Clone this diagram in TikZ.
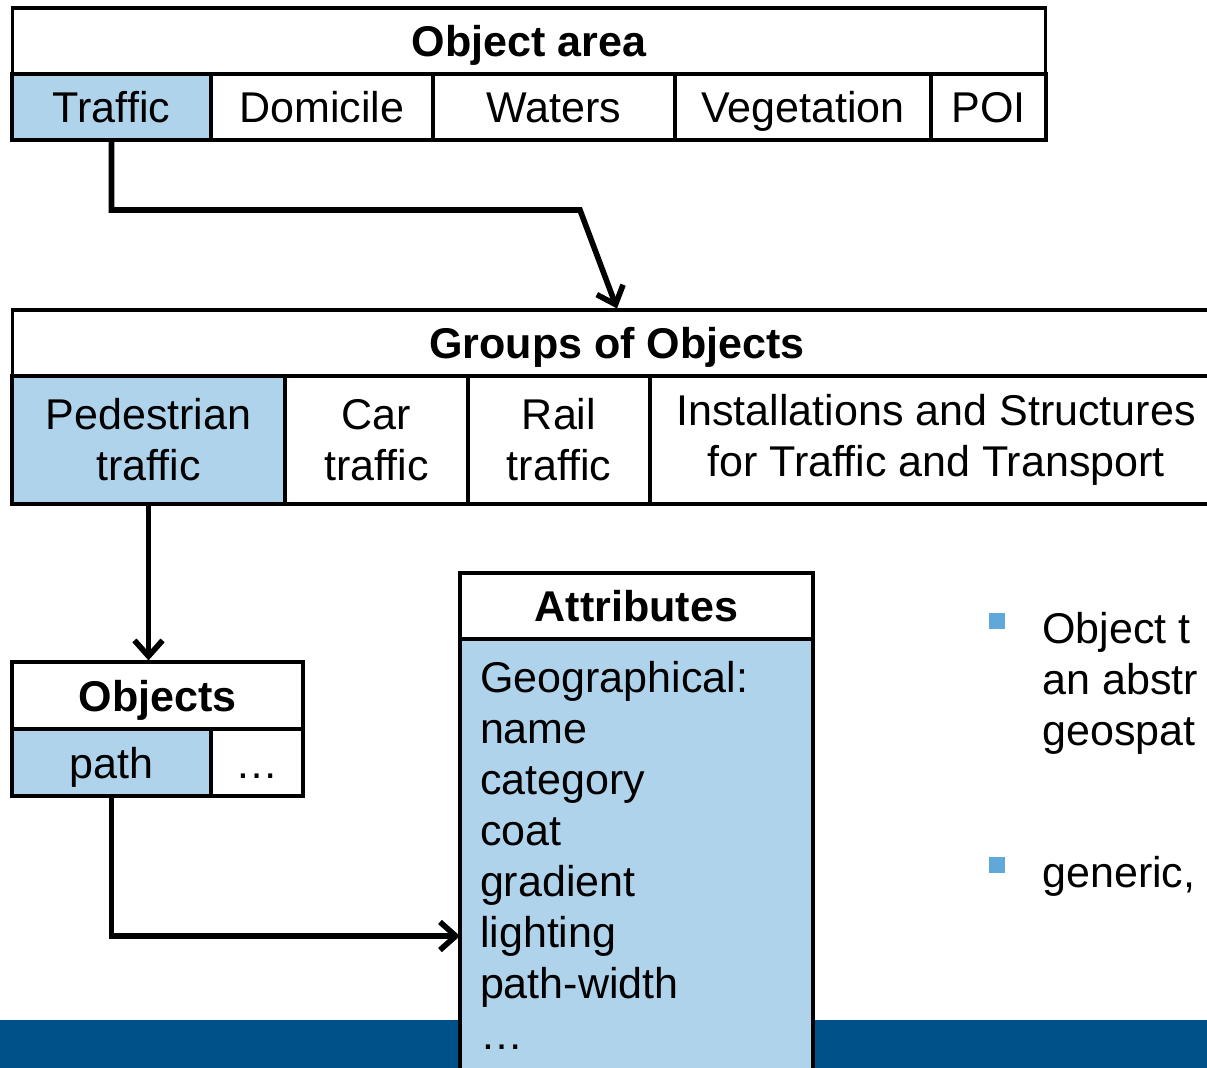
\documentclass[tikz,border=0pt]{standalone}
\usepackage{fontspec}
\setmainfont{Liberation Sans}
\usetikzlibrary{arrows.meta}

\definecolor{cellblue}{HTML}{B0D3EC}
\definecolor{bandblue}{HTML}{00508A}
\definecolor{bulletblue}{HTML}{5FA8D8}
\newcommand{\slidefont}{\fontsize{24.5}{29}\selectfont}

\begin{document}
\begin{tikzpicture}[x=0.02cm, y=-0.02cm,
        font=\slidefont,
        cell/.style={draw, line width=1.8pt, inner sep=0pt, minimum height=1.32cm, align=center},
        oneline/.style={text height=22pt, text depth=4pt},
        hl/.style={cell, fill=cellblue},
        head/.style={cell, oneline, font=\slidefont\bfseries},
        bullet/.style={fill=bulletblue, inner sep=0pt, minimum size=0.32cm},
        link/.style={line width=3.2pt, -{Straight Barb[length=9pt, width=16pt, line width=3.2pt]}}]
    \useasboundingbox (0, 0) rectangle (1207, 1068);
    \clip (0, 0) rectangle (1207, 1068);

    % footer band
    \fill[bandblue] (0, 1020) rectangle (1207, 1068);

    % object area
    \path node[head, minimum width=20.68cm] (area) at (529, 41) {Object area}
        node[hl, oneline, minimum width=3.98cm] (traffic) at (111.5, 107) {Traffic}
        node[cell, oneline, minimum width=4.44cm] (domicile) at (322, 107) {Domicile}
        node[cell, oneline, minimum width=4.84cm] (waters) at (554, 107) {Waters}
        node[cell, oneline, minimum width=5.12cm] (vegetation) at (803, 107) {Vegetation}
        node[cell, oneline, minimum width=2.30cm] (poi) at (988.5, 107) {POI};

    % groups of objects
    \path node[head, minimum width=24.2cm] (groups) at (617, 343) {Groups of Objects}
        node[hl, minimum width=5.46cm, minimum height=2.56cm] (pedestrian) at (148.5, 440) {Pedestrian\\traffic}
        node[cell, minimum width=3.66cm, minimum height=2.56cm] (car) at (376.5, 440) {Car\\traffic}
        node[cell, minimum width=3.64cm, minimum height=2.56cm] (rail) at (559, 440) {Rail\\traffic}
        node[cell, minimum width=11.44cm, minimum height=2.56cm] (installations) at (936, 440) {Installations and Structures\\for Traffic and Transport};

    % objects
    \path node[head, minimum width=5.82cm, minimum height=1.34cm] (objects) at (157.5, 695.5) {Objects}
        node[hl, oneline, minimum width=3.98cm, minimum height=1.34cm] (path) at (111.5, 762.5) {path}
        node[cell, oneline, minimum width=1.84cm, minimum height=1.34cm] (more) at (257, 762.5) {\ldots};

    % attributes
    \path node[head, minimum width=7.06cm] (attrhead) at (636.5, 606) {Attributes}
        node[hl, minimum width=7.06cm, minimum height=8.66cm, text width=6.26cm, align=left] (attrbody) at (636.5, 855.5)
            {Geographical:\\name\\category\\coat\\gradient\\lighting\\path-width\\\ldots};

    % bullets
    \path node[bullet] (b1) at (997, 621) {}
        node[anchor=north west, inner sep=0pt, align=left] (t1) at (1042, 612) {Object t\\an abstr\\geospat}
        node[bullet] (b2) at (997, 865) {}
        node[anchor=base west, inner sep=0pt] (t2) at (1042, 887) {generic,};

    \coordinate (bend) at (580, 210);
    \coordinate (pin) at (460, 936);

    \draw[link] (traffic.south) |- (bend) -- (groups.north);
    \draw[link] (pedestrian.south) -- (pedestrian.south |- objects.north);
    \draw[link] (path.south) |- (pin);
\end{tikzpicture}
\end{document}
